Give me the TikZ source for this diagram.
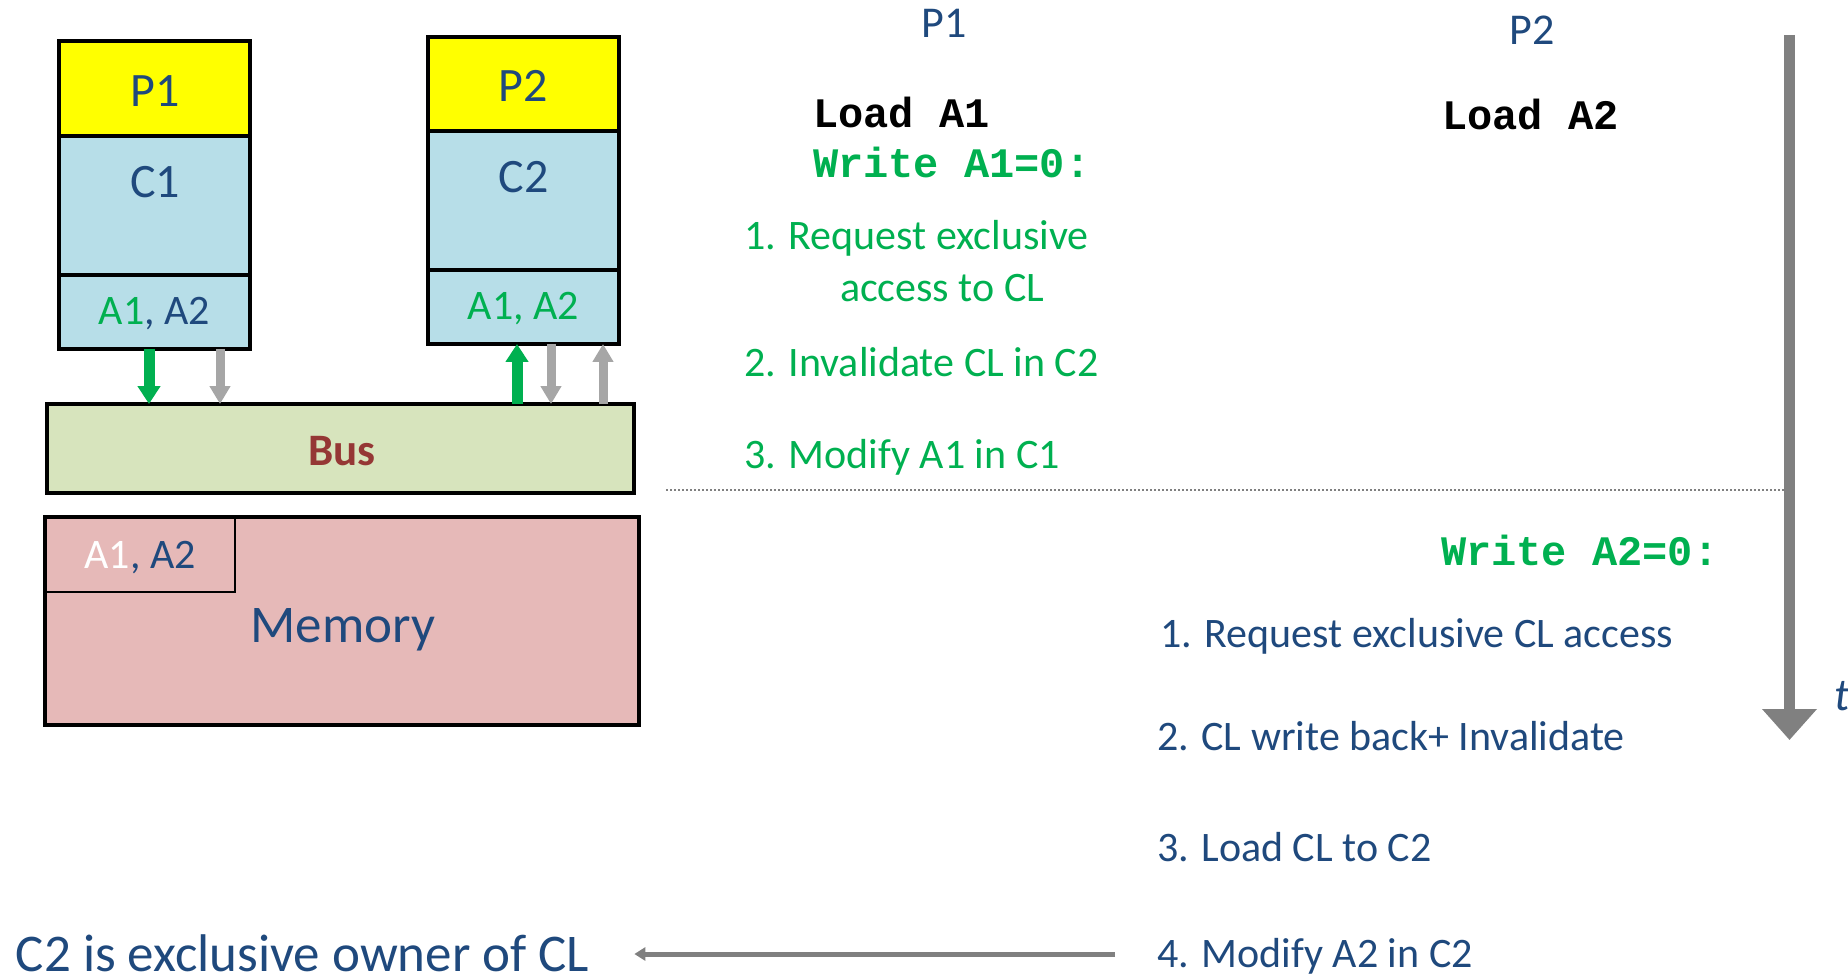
\documentclass[tikz,border=0pt]{standalone}
\usepackage{fontspec}
\setmainfont{Carlito}
\newfontfamily\courfont{Liberation Mono}
\usetikzlibrary{arrows.meta,calc}
\newcommand\fsz[1]{\fontsize{#1}{#1}\selectfont}
\definecolor{pyellow}{HTML}{FFFF00}
\definecolor{cblue}{HTML}{B7DEE8}
\definecolor{busgreen}{HTML}{D7E4BD}
\definecolor{mempink}{HTML}{E6B9B8}
\definecolor{tblue}{HTML}{1F497D}
\definecolor{tgreen}{HTML}{00B050}
\definecolor{busred}{HTML}{953735}
\definecolor{lgray}{HTML}{A6A6A6}
\definecolor{dgray}{HTML}{808080}
\tikzset{
  box/.style={draw=black, line width=3.5pt, inner sep=0pt, outer sep=0pt},
  txt/.style={inner sep=0pt, outer sep=0pt},
  boxtxt/.style={txt, anchor=base, text=tblue},
  body/.style={txt, anchor=base west, font=\fsz{42}},
  code/.style={txt, anchor=base west, font=\courfont\bfseries\fsz{42}},
  greenarrow/.style={draw=tgreen, line width=11pt, -{Triangle[length=18pt,width=22pt]}},
  grayarrow/.style={draw=lgray, line width=9pt, -{Triangle[length=18pt,width=20pt]}},
  timearrow/.style={draw=dgray, line width=10.5pt, -{Triangle[length=31pt,width=53pt]}},
  thinarrow/.style={draw=dgray, line width=5pt, -{Triangle[length=11pt,width=13pt]}},
}
\begin{document}
\begin{tikzpicture}[x=1pt,y=-1pt]
\path[use as bounding box] (0,0) rectangle (1848,976);

% processor / cache stacks
\node[box, fill=pyellow, minimum width=191pt, minimum height=95pt] (p1) at (154.5,88.5) {};
\node[box, fill=cblue, minimum width=191pt, minimum height=139pt] (c1) at (154.5,205.5) {};
\node[box, fill=cblue, minimum width=191pt, minimum height=74pt] (c1a) at (154.5,312) {};
\node[boxtxt, font=\fsz{48}] (p1t) at (155,107) {P1};
\node[boxtxt, font=\fsz{48}] (c1t) at (155,198) {C1};
\node[boxtxt, font=\fsz{42}] (c1at) at (154.5,325) {\textcolor{tgreen}{A1}, A2};

\node[box, fill=pyellow, minimum width=191pt, minimum height=94pt] (p2) at (523.5,84) {};
\node[box, fill=cblue, minimum width=191pt, minimum height=139pt] (c2) at (523.5,200.5) {};
\node[box, fill=cblue, minimum width=191pt, minimum height=74pt] (c2a) at (523.5,307) {};
\node[boxtxt, font=\fsz{48}] (p2t) at (523.5,102) {P2};
\node[boxtxt, font=\fsz{48}] (c2t) at (523.5,193) {C2};
\node[boxtxt, font=\fsz{42}, text=tgreen] (c2at) at (523.5,320) {A1, A2};

% bus
\node[box, fill=busgreen, minimum width=587pt, minimum height=89pt] (bus) at (340.5,448.5) {};
\node[boxtxt, font=\bfseries\fsz{45}, text=busred] (bust) at (342,465) {Bus};

% memory
\node[box, fill=mempink, minimum width=594pt, minimum height=208pt] (mem) at (342,621) {};
\node[box, line width=2.5pt, minimum width=190pt, minimum height=75pt] (memcl) at (140,554.5) {};
\node[boxtxt, font=\fsz{53}] (memt) at (343,642) {Memory};
\node[boxtxt, font=\fsz{42}] (memclt) at (140,568) {\textcolor{white}{A1}, A2};

% cache <-> bus arrows
\coordinate (g1) at ($(c1a.south)+(-5.5,0)$);
\coordinate (h1) at ($(c1a.south)+(65.5,0)$);
\coordinate (g2) at ($(c2a.south)+(-6.5,0)$);
\coordinate (h2) at ($(c2a.south)+(27.5,0)$);
\coordinate (k2) at ($(c2a.south)+(79.5,0)$);
\draw[greenarrow] (g1) -- (g1 |- bus.north);
\draw[grayarrow] (h1) -- (h1 |- bus.north);
\draw[greenarrow] (g2 |- bus.north) -- (g2);
\draw[grayarrow] (h2) -- (h2 |- bus.north);
\draw[grayarrow] (k2 |- bus.north) -- (k2);

% timeline text, P1
\node[boxtxt, font=\fsz{44}] (tp1) at (944,38) {P1};
\node[code, text=black] (ld1) at (813,128) {Load A1};
\node[code, text=tgreen] (wr1) at (813,178) {Write A1=0:};
\node[body, text=tgreen] (s11) at (744,250) {1. Request exclusive};
\node[body, text=tgreen] (s11b) at (840,302) {access to CL};
\node[body, text=tgreen] (s12) at (744,377) {2. Invalidate CL in C2};
\node[body, text=tgreen] (s13) at (744,468) {3. Modify A1 in C1};

% timeline text, P2
\node[boxtxt, font=\fsz{44}] (tp2) at (1532,45) {P2};
\node[code, text=black] (ld2) at (1442,130) {Load A2};
\node[code, text=tgreen] (wr2) at (1441,565) {Write A2=0:};
\node[body, text=tblue] (s21) at (1160,647) {1. Request exclusive CL access};
\node[body, text=tblue] (s22) at (1157,750) {2. CL write back+ Invalidate};
\node[body, text=tblue] (s23) at (1157,861) {3. Load CL to C2};
\node[body, text=tblue] (m4) at (1157,967) {4. Modify A2 in C2};

% separator
\draw[dgray, line width=2pt, dash pattern=on 2pt off 2pt] (666,490) -- (1786,490);

% time axis
\coordinate (ttop) at (1789.5,35);
\coordinate (tbot) at (1789.5,740);
\draw[timearrow] (ttop) -- (tbot);
\node[txt, anchor=base west, font=\itshape\fsz{46}, text=tblue] (tlab) at (1834,710) {t};

% conclusion
\node[txt, anchor=base west, font=\fsz{53}, text=tblue] (own) at (16,971) {C2 is exclusive owner of CL};
\coordinate (arrS) at ($(m4.base west)+(-42,-13)$);
\draw[thinarrow] (arrS) -- ($(own.base east |- arrS)+(45,0)$);
\end{tikzpicture}
\end{document}
